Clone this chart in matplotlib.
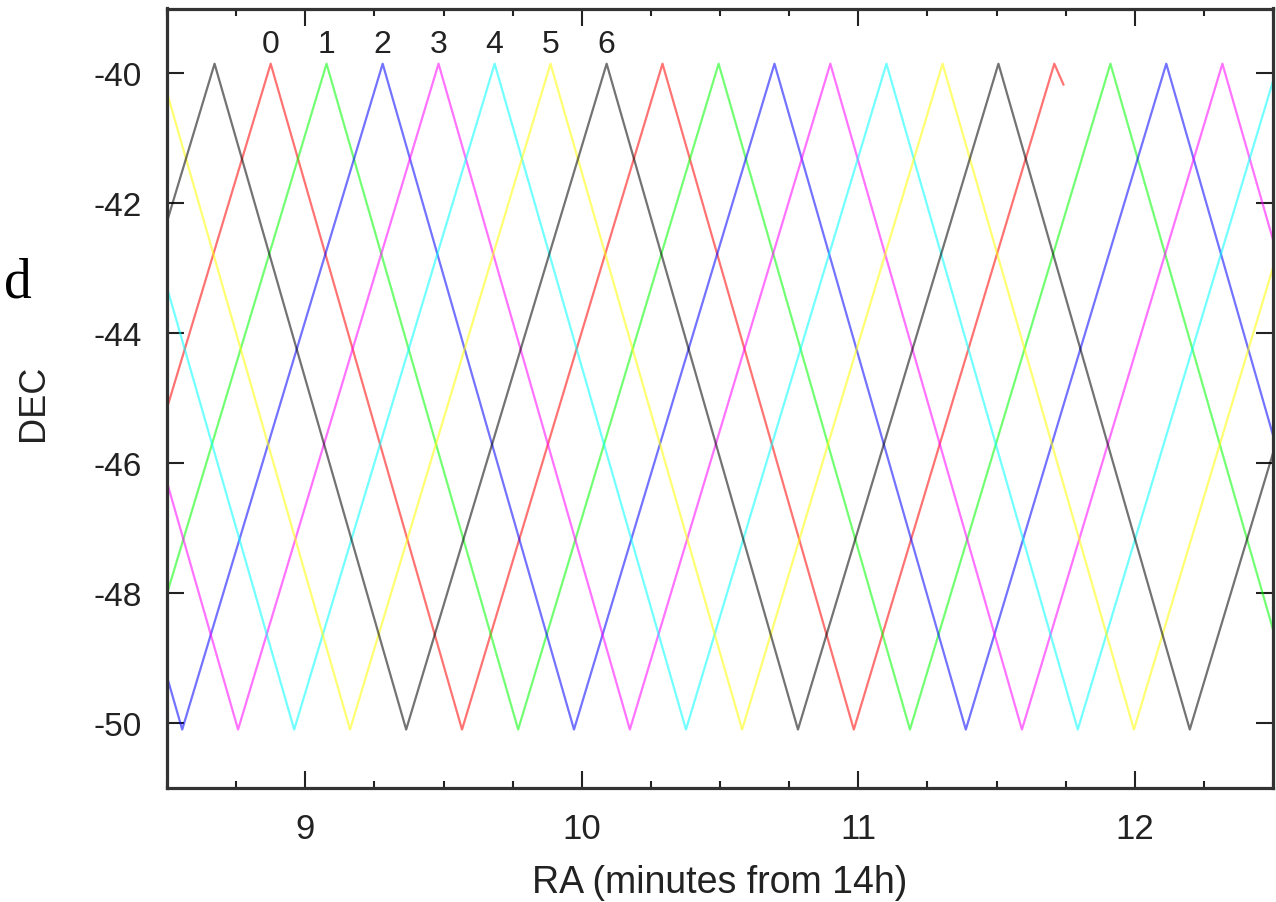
import matplotlib
matplotlib.use("Agg")
import matplotlib.pyplot as plt
from matplotlib.ticker import MultipleLocator

# Scan tracks: turning points (RA in minutes from 14h, DEC)
top = -39.85
bot = -50.1

trace_ra = [
    [8.150, 8.875, 9.567, 10.292, 10.984, 11.709, 11.742],            # 0 red
    [7.660, 8.352, 9.077, 9.770, 10.495, 11.187, 11.912, 12.604],     # 1 green
    [7.862, 8.555, 9.280, 9.972, 10.697, 11.389, 12.114, 12.806],     # 2 blue
    [8.065, 8.757, 9.482, 10.174, 10.899, 11.592, 12.317, 13.009],    # 3 magenta
    [8.267, 8.960, 9.685, 10.377, 11.102, 11.794, 12.519, 13.211],    # 4 cyan
    [7.745, 8.470, 9.162, 9.887, 10.580, 11.305, 11.997, 12.722],     # 5 yellow
    [7.947, 8.672, 9.365, 10.090, 10.782, 11.507, 12.199, 12.924],    # 6 black
]
trace_dec = [
    [bot, top, bot, top, bot, top, -40.17],
    [top, bot, top, bot, top, bot, top, bot],
    [top, bot, top, bot, top, bot, top, bot],
    [top, bot, top, bot, top, bot, top, bot],
    [top, bot, top, bot, top, bot, top, bot],
    [bot, top, bot, top, bot, top, bot, top],
    [bot, top, bot, top, bot, top, bot, top],
]
trace_names = ['0', '1', '2', '3', '4', '5', '6']
trace_colors = ['red', 'lime', 'blue', 'magenta', 'cyan', 'yellow', 'black']
first_peak = [1, 2, 2, 2, 2, 3, 3]  # index of the labelled peak in each track

plt.rcParams['font.family'] = ['Liberation Sans', 'DejaVu Sans']
plt.rcParams['axes.unicode_minus'] = False

fig = plt.figure(figsize=(12.76, 9.03), dpi=100)
ax = fig.add_axes([167 / 1276, 1 - 789 / 903, (1273 - 167) / 1276, (789 - 9.5) / 903])

for ra, dec, col in zip(trace_ra, trace_dec, trace_colors):
    ax.plot(ra, dec, color=col, alpha=0.55, lw=1.6, solid_joinstyle='round')

# beam numbers above the first peaks
for ra, name, k in zip(trace_ra, trace_names, first_peak):
    ax.text(ra[k], -39.55, name, ha='center', va='center', fontsize=23, color='#222222')

ax.set_xlim(8.5, 12.5)
ax.set_ylim(-51, -39)
ax.xaxis.set_major_locator(MultipleLocator(1))
ax.xaxis.set_minor_locator(MultipleLocator(0.25))
ax.yaxis.set_major_locator(MultipleLocator(2))

ax.tick_params(which='both', direction='in', top=True, right=True, color='#222222',
               labelcolor='#222222')
ax.tick_params(which='major', length=12, width=1.5)
ax.tick_params(which='minor', length=5, width=1.5)
ax.tick_params(axis='y', pad=18, labelsize=24)
ax.tick_params(axis='x', pad=17, labelsize=25)

for s in ax.spines.values():
    s.set_linewidth(2.3)
    s.set_color('#333333')

ax.set_xlabel('RA (minutes from 14h)', fontsize=27, color='#222222')
ax.set_ylabel('DEC', fontsize=26, color='#222222')
ax.xaxis.set_label_coords(0.5, -0.097)
ax.yaxis.set_label_coords(-0.1046, 0.496)

fig.text(4 / 1276, 1 - 297 / 903, 'd', family='Liberation Serif', fontsize=40, color='black')

fig.savefig('out.png', dpi=100)
